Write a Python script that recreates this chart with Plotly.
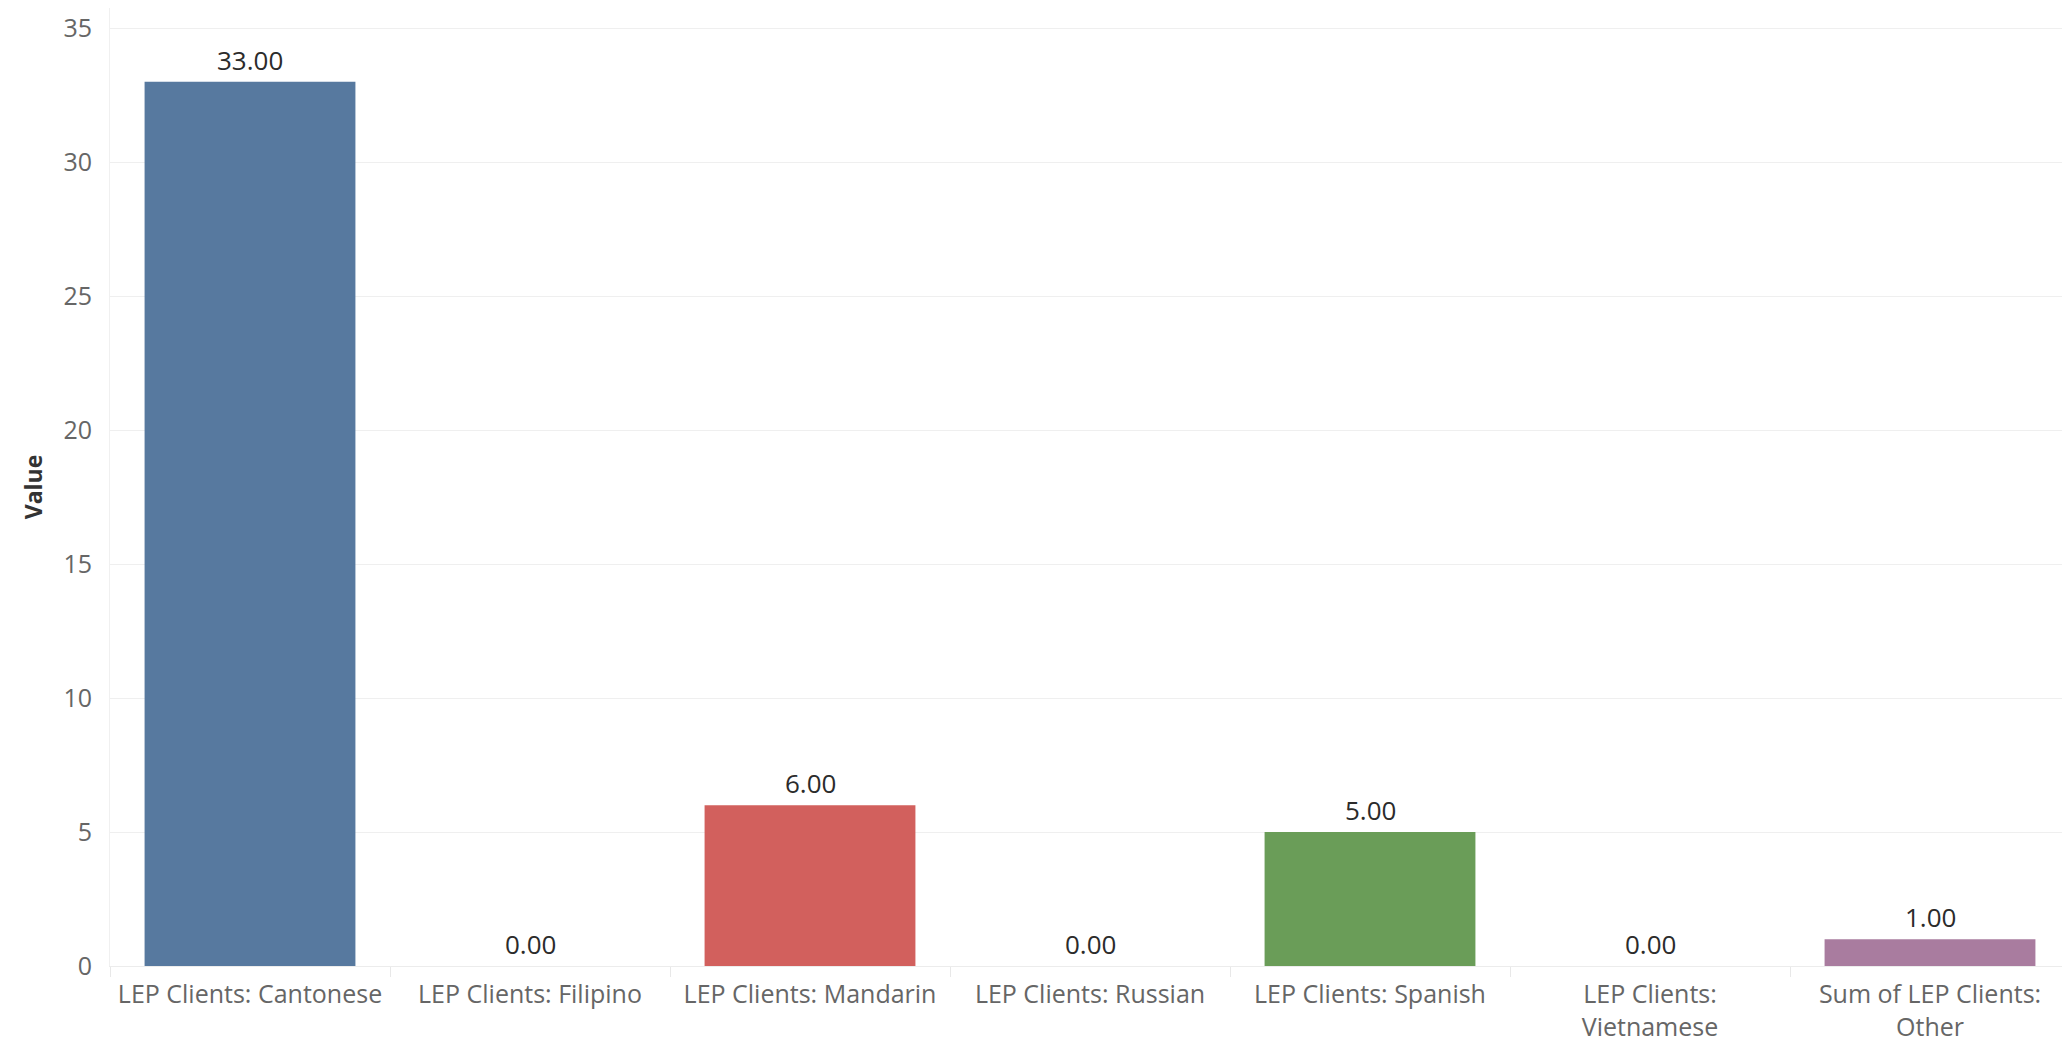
import plotly.graph_objects as go

categories = [
    "LEP Clients: Cantonese",
    "LEP Clients: Filipino",
    "LEP Clients: Mandarin",
    "LEP Clients: Russian",
    "LEP Clients: Spanish",
    "LEP Clients:<br>Vietnamese",
    "Sum of LEP Clients:<br>Other",
]
values = [33, 0, 6, 0, 5, 0, 1]
colors = ["#57799f", "#f28e2b", "#d2605d", "#76b7b2", "#6a9d58", "#edc948", "#a97c9f"]
y_ticks = [0, 5, 10, 15, 20, 25, 30, 35]

FONT = "Open Sans"

fig = go.Figure(
    go.Bar(
        x=categories,
        y=values,
        marker=dict(color=colors, line=dict(width=0)),
        hoverinfo="skip",
    )
)

for c, v in zip(categories, values):
    fig.add_annotation(
        x=c, y=v, xref="x", yref="y",
        text=f"{v:.2f}",
        showarrow=False,
        yanchor="bottom",
        yshift=2,
        font=dict(family=FONT, size=26, color="#2b2b2b"),
    )

# page body has an 8px default margin; size the figure to fill the rest
fig.update_layout(
    width=2062,
    height=1054,
    margin=dict(l=102, r=0, t=0, b=96),
    paper_bgcolor="white",
    plot_bgcolor="white",
    bargap=0.247,
    showlegend=False,
    font=dict(family=FONT),
)

fig.update_xaxes(
    type="category",
    showgrid=False,
    showline=True,
    linecolor="#ececec",
    linewidth=1,
    ticks="outside",
    tickson="boundaries",
    ticklen=10,
    tickcolor="#e8e8e8",
    ticklabelstandoff=6,
    tickfont=dict(family=FONT, size=25, color="#666666"),
    automargin=False,
)

fig.update_yaxes(
    range=[0, 35.75],
    tickvals=y_ticks,
    showgrid=True,
    gridcolor="#efefef",
    gridwidth=1,
    zeroline=False,
    showline=True,
    linecolor="#f0f0f0",
    ticks="",
    ticklabelstandoff=12,
    tickfont=dict(family=FONT, size=25, color="#666666"),
    title=dict(text="<b>Value</b>", font=dict(family=FONT, size=23, color="#333333"), standoff=14),
    automargin=False,
)

fig.write_html("out.html")
